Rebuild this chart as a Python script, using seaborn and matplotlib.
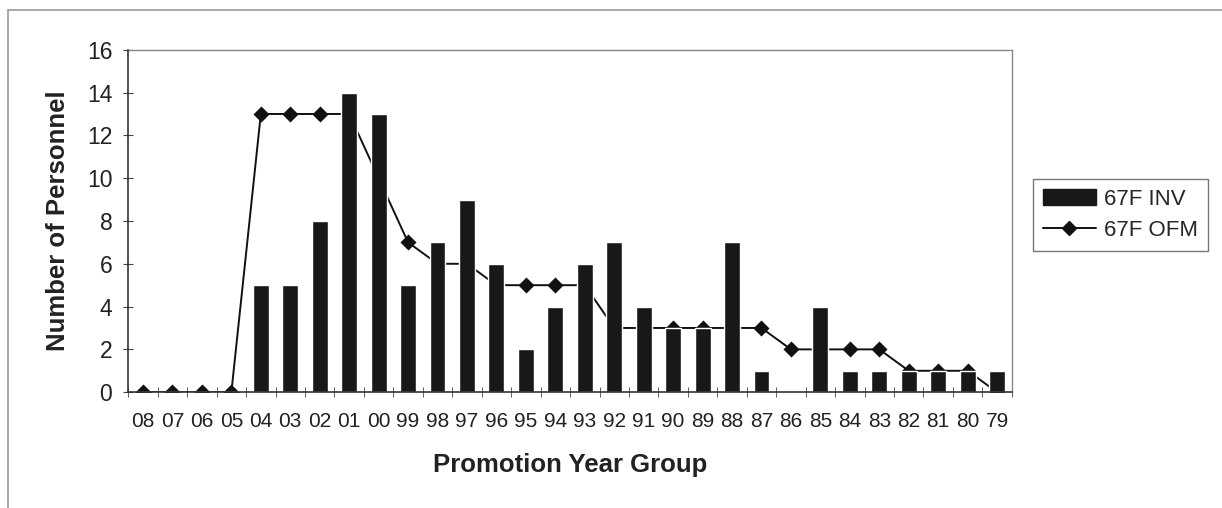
import matplotlib
matplotlib.use('Agg')
import matplotlib.pyplot as plt
import seaborn as sns
import pandas as pd
from matplotlib.patches import Patch, Rectangle
from matplotlib.lines import Line2D

# Promotion year groups, newest first
year_groups = ['08', '07', '06', '05', '04', '03', '02', '01', '00', '99',
               '98', '97', '96', '95', '94', '93', '92', '91', '90', '89',
               '88', '87', '86', '85', '84', '83', '82', '81', '80', '79']
inv_counts = [0, 0, 0, 0, 5, 5, 8, 14, 13, 5,
              7, 9, 6, 2, 4, 6, 7, 4, 3, 3,
              7, 1, 0, 4, 1, 1, 1, 1, 1, 1]
ofm_counts = [0, 0, 0, 0, 13, 13, 13, 13, 10, 7,
              6, 6, 5, 5, 5, 5, 3, 3, 3, 3,
              3, 3, 2, 2, 2, 2, 1, 1, 1, 0]

df = pd.DataFrame({'yg': year_groups, 'inv': inv_counts, 'ofm': ofm_counts})

sns.set_style('white')
plt.rcParams['font.family'] = ['Liberation Sans', 'DejaVu Sans']

fig = plt.figure(figsize=(12.22, 5.08), dpi=100)
ax = fig.add_axes([0.105, 0.228, 0.723, 0.674])

sns.barplot(data=df, x='yg', y='inv', order=year_groups, color='#181818',
            width=0.54, saturation=1, ax=ax)
sns.pointplot(data=df, x='yg', y='ofm', order=year_groups, color='#111111',
              markers='D', linestyles='-', markersize=7.5, linewidth=1.4,
              errorbar=None, ax=ax)

# bars sit in front of the OFM line, as in the original
for ln in ax.lines:
    ln.set_zorder(2)
for p in ax.patches:
    p.set_zorder(3)

n = len(year_groups)
ax.set_xlim(-0.5, n - 0.5)
ax.set_ylim(0, 16)
ax.set_yticks(range(0, 17, 2))
ax.set_xticks(range(n))
ax.set_xticklabels(year_groups)
ax.set_xticks([i + 0.5 for i in range(-1, n)], minor=True)
ax.tick_params(axis='x', which='major', length=0, labelsize=15, pad=14,
               labelcolor='#222222')
ax.tick_params(axis='x', which='minor', length=7, direction='inout',
               color='#444444', bottom=True)
ax.tick_params(axis='y', length=7, direction='inout', labelsize=16.5, pad=8,
               color='#444444', left=True, labelcolor='#222222')

for side in ['left', 'bottom']:
    ax.spines[side].set_color('#333333')
    ax.spines[side].set_linewidth(1.2)
    ax.spines[side].set_zorder(4)
for side in ['top', 'right']:
    ax.spines[side].set_color('#888888')
    ax.spines[side].set_linewidth(1.0)

ax.set_xlabel('Promotion Year Group', fontsize=18.5, fontweight='bold',
              labelpad=16, color='#222222')
ax.set_ylabel('Number of Personnel', fontsize=18.5, fontweight='bold',
              labelpad=12, color='#222222')

handles = [Patch(facecolor='#181818', edgecolor='#181818', label='67F INV'),
           Line2D([0], [0], color='#111111', marker='D', markersize=7.5,
                  linewidth=1.4, label='67F OFM')]
leg = fig.legend(handles=handles, loc='upper left',
                 bbox_to_anchor=(0.845, 0.648), fontsize=16,
                 frameon=True, fancybox=False, handlelength=2.4,
                 handleheight=0.7, handletextpad=0.35, borderpad=0.45,
                 labelspacing=0.45, borderaxespad=0)
leg.get_frame().set_edgecolor('#555555')
leg.get_frame().set_linewidth(1.0)

# outer chart border
fig.patches.append(Rectangle((0.0065, -0.02), 1.0, 1.0, transform=fig.transFigure,
                             fill=False, edgecolor='#999999', linewidth=1.2))

fig.savefig('out.png', dpi=100, facecolor='white')
